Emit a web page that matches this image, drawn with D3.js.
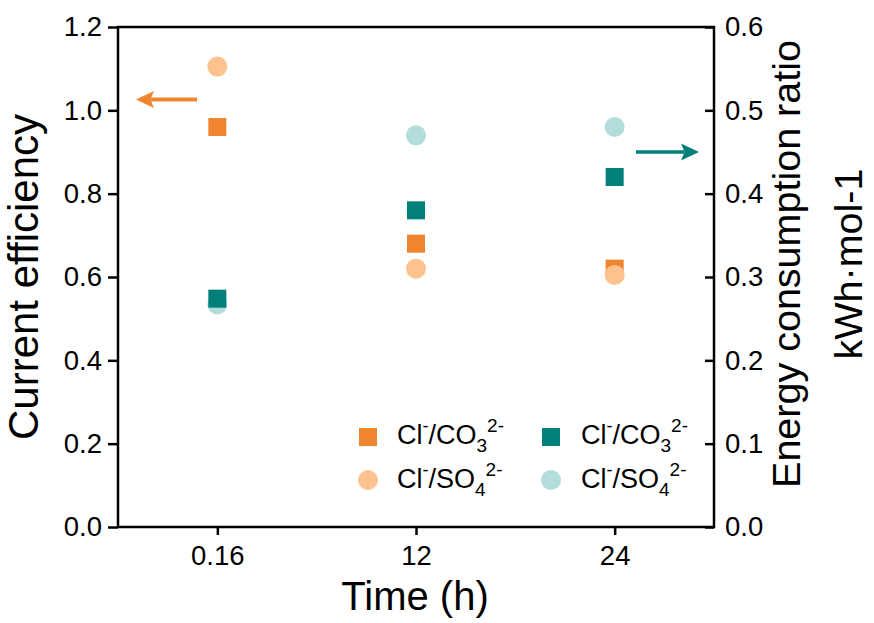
<!DOCTYPE html>
<html>
<head>
<meta charset="utf-8">
<script src="https://cdn.jsdelivr.net/npm/d3@7"></script>
<style>
  html, body { margin: 0; padding: 0; background: #fff; }
  svg { display: block; font-family: Arial, "Liberation Sans", sans-serif; }
</style>
</head>
<body>
<svg id="chart" width="874" height="623"></svg>
<script>
// ---- data ----
const categories = ["0.16", "12", "24"];
// left axis: current efficiency
const efficiencyCO3 = [0.96, 0.68, 0.62];
const efficiencySO4 = [1.105, 0.62, 0.605];
// right axis: energy consumption ratio (kWh·mol-1)
const energyCO3 = [0.274, 0.38, 0.42];
const energySO4 = [0.267, 0.47, 0.48];
const leftTicks = [0.0, 0.2, 0.4, 0.6, 0.8, 1.0, 1.2];
const rightTicks = [0.0, 0.1, 0.2, 0.3, 0.4, 0.5, 0.6];

const colors = {
  orange: "#F08530",
  lightOrange: "#FDC28E",
  teal: "#007F7B",
  lightTeal: "#B3DDDA"
};

const svg = d3.select("#chart");
const L = 118, R = 714, T = 27, B = 527;

const x = d3.scalePoint().domain(categories).range([L, R]).padding(0.5);
const yL = d3.scaleLinear().domain([0, 1.2]).range([B, T]);
const yR = d3.scaleLinear().domain([0, 0.6]).range([B, T]);

// axes
const axisLeft = d3.axisLeft(yL).tickValues(leftTicks).tickFormat(d3.format(".1f")).tickSize(10).tickPadding(6);
const axisRight = d3.axisRight(yR).tickValues(rightTicks).tickFormat(d3.format(".1f")).tickSize(-9).tickPadding(11);
const axisBottom = d3.axisBottom(x).tickSize(8).tickPadding(10);

function styleAxis(g) {
  g.select(".domain").remove();
  g.selectAll(".tick line").attr("stroke", "#000").attr("stroke-width", 2.5);
  g.selectAll(".tick text").attr("fill", "#000").style("font-size", "27.5px")
    .style("font-family", "Arial, 'Liberation Sans', sans-serif");
}

svg.append("g").attr("transform", `translate(${L},0)`).call(axisLeft).call(styleAxis);
svg.append("g").attr("transform", `translate(${R},0)`).call(axisRight).call(styleAxis);
const gb = svg.append("g").attr("transform", `translate(0,${B})`).call(axisBottom).call(styleAxis);
gb.selectAll(".tick text").attr("dy", "0.71em");

// frame
svg.append("rect").attr("x", L).attr("y", T).attr("width", R - L).attr("height", B - T)
  .attr("fill", "none").attr("stroke", "#000").attr("stroke-width", 2.5);

// axis titles
svg.append("text").attr("transform", `translate(38,${(T + B) / 2}) rotate(-90)`)
  .attr("text-anchor", "middle").style("font-size", "42px").text("Current efficiency");
svg.append("text").attr("x", (L + R) / 2 - 1).attr("y", 610)
  .attr("text-anchor", "middle").style("font-size", "40px").text("Time (h)");
svg.append("text").attr("transform", `translate(800,264) rotate(-90)`)
  .attr("text-anchor", "middle").style("font-size", "39.5px").text("Energy consumption ratio");
svg.append("text").attr("transform", `translate(862,264) rotate(-90)`)
  .attr("text-anchor", "middle").style("font-size", "39.5px").text("kWh·mol-1");

// markers
const sq = 18, rad = 10;
function squares(vals, scale, color) {
  svg.append("g").selectAll("rect").data(vals).join("rect")
    .attr("x", (d, i) => x(categories[i]) - sq / 2)
    .attr("y", d => scale(d) - sq / 2)
    .attr("width", sq).attr("height", sq).attr("fill", color);
}
function circles(vals, scale, color) {
  svg.append("g").selectAll("circle").data(vals).join("circle")
    .attr("cx", (d, i) => x(categories[i]))
    .attr("cy", d => scale(d))
    .attr("r", rad).attr("fill", color);
}
squares(efficiencyCO3, yL, colors.orange);
circles(efficiencySO4, yL, colors.lightOrange);
circles(energySO4, yR, colors.lightTeal);
squares(energyCO3, yR, colors.teal);

// arrows
function arrow(x1, x2, yv, color, w) {
  const dir = Math.sign(x2 - x1);
  const headLen = 18, headW = 8.5;
  svg.append("line").attr("x1", x1).attr("x2", x2 - dir * headLen * 0.8)
    .attr("y1", yv).attr("y2", yv).attr("stroke", color).attr("stroke-width", w);
  svg.append("path")
    .attr("d", `M${x2},${yv} L${x2 - dir * headLen},${yv - headW} L${x2 - dir * headLen * 0.8},${yv} L${x2 - dir * headLen},${yv + headW} Z`)
    .attr("fill", color);
}
arrow(197, 136, yL(1.026), colors.orange, 4);
arrow(636, 699, yL(0.9), colors.teal, 3.5);

// legend
const legendItems = [
  { shape: "square", color: colors.orange, cx: 368, cy: 437, ion: "CO", sub: "3", tx: 397, ty: 444 },
  { shape: "square", color: colors.teal, cx: 551, cy: 437, ion: "CO", sub: "3", tx: 581, ty: 444 },
  { shape: "circle", color: colors.lightOrange, cx: 368, cy: 480, ion: "SO", sub: "4", tx: 397, ty: 488 },
  { shape: "circle", color: colors.lightTeal, cx: 551, cy: 480, ion: "SO", sub: "4", tx: 581, ty: 488 }
];
const lg = svg.append("g");
legendItems.forEach(it => {
  if (it.shape === "square") {
    lg.append("rect").attr("x", it.cx - sq / 2).attr("y", it.cy - sq / 2)
      .attr("width", sq).attr("height", sq).attr("fill", it.color);
  } else {
    lg.append("circle").attr("cx", it.cx).attr("cy", it.cy).attr("r", rad).attr("fill", it.color);
  }
  const t = lg.append("text").attr("x", it.tx).attr("y", it.ty).style("font-size", "27px");
  t.append("tspan").text("Cl");
  t.append("tspan").attr("dy", -12).style("font-size", "18px").text("-");
  t.append("tspan").attr("dy", 12).text("/" + it.ion);
  t.append("tspan").attr("dy", 8).style("font-size", "19px").text(it.sub);
  t.append("tspan").attr("dy", -20).style("font-size", "19px").text("2-");
});
</script>
</body>
</html>
